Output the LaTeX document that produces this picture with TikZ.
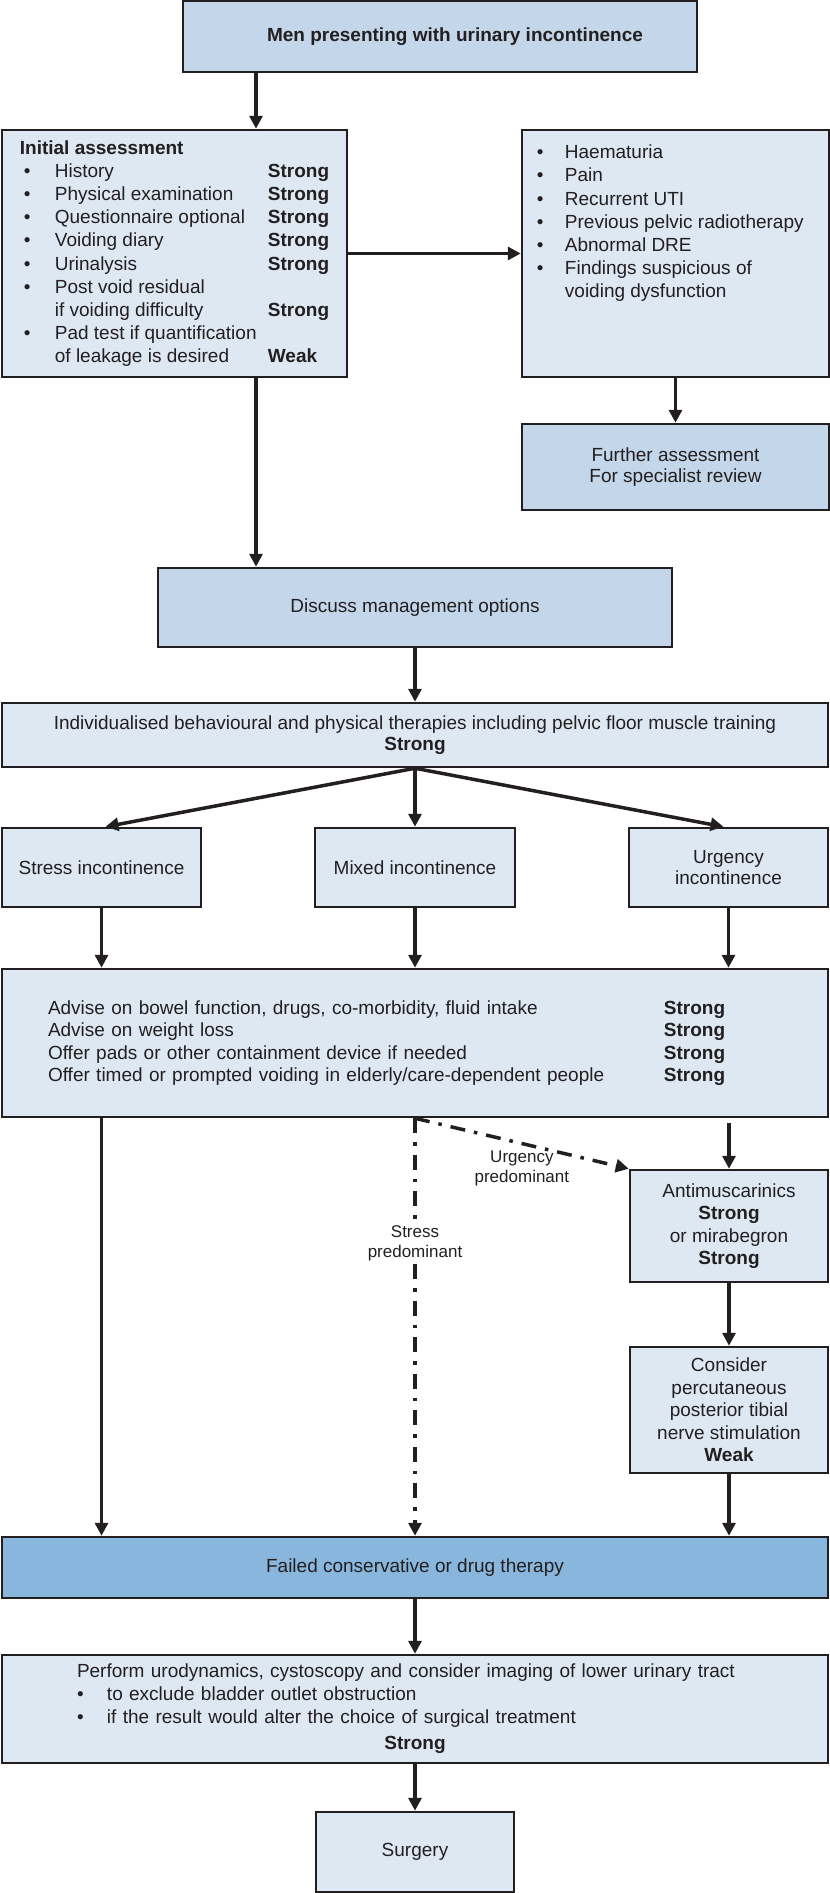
\documentclass[tikz,border=0pt]{standalone}
\usepackage{fontspec}
\setmainfont{Liberation Sans}
\usepackage{tikz}
\usetikzlibrary{arrows.meta, positioning}
\definecolor{boxline}{HTML}{231F20}
\definecolor{paleblue}{HTML}{DDE8F3}
\definecolor{midblue}{HTML}{C3D6EA}
\definecolor{deepblue}{HTML}{88B6DC}
\tikzstyle{arrow} = [line width=3.5pt, draw=boxline, -{Triangle[length=13pt,width=13pt]}]
\tikzstyle{dashdot} = [arrow, dash pattern=on 15pt off 9pt on 3.5pt off 9pt]
\newcommand{\gradeline}[3]{\makebox[35pt][l]{\hspace*{4pt}#1}\makebox[213pt][l]{#2}\textbf{#3}}
\newcommand{\flagline}[1]{\makebox[28pt][l]{\textbullet}#1}

\begin{document}
\begin{tikzpicture}[
        x=1pt, y=-1pt,
        every node/.style={text=boxline, font=\fontsize{19}{22.5}\selectfont},
        box/.style={draw=boxline, line width=2.5pt, fill=paleblue, align=center, inner sep=0pt},
        keybox/.style={box, fill=midblue},
        failbox/.style={box, fill=deepblue},
        branch/.style={inner sep=3pt, align=center, font=\fontsize{17}{19.5}\selectfont},
    ]
    \useasboundingbox (0,0) rectangle (830,1893);

    % assessment
    \node[keybox, minimum width=514pt, minimum height=71pt] (men) at (440,36.5) {\hspace*{30pt}\textbf{Men presenting with urinary incontinence}};
    \node[box, minimum width=345pt, minimum height=247pt, align=left, font=\fontsize{19}{23.2}\selectfont] (init) at (174.5,253.5) {%
        \textbf{Initial assessment}\\
        \gradeline{\textbullet}{History}{Strong}\\
        \gradeline{\textbullet}{Physical examination}{Strong}\\
        \gradeline{\textbullet}{Questionnaire optional}{Strong}\\
        \gradeline{\textbullet}{Voiding diary}{Strong}\\
        \gradeline{\textbullet}{Urinalysis}{Strong}\\
        \gradeline{\textbullet}{Post void residual}{}\\
        \gradeline{}{if voiding difficulty}{Strong}\\
        \gradeline{\textbullet}{Pad test if quantification}{}\\
        \gradeline{}{of leakage is desired}{Weak}};
    \node[box, minimum width=307pt, minimum height=247pt] (flags) at (675.5,253.5) {};
    \node[anchor=north west, align=left, inner sep=0pt, font=\fontsize{19}{23.2}\selectfont] (flagtext) at ([xshift=16pt, yshift=-16pt]flags.north west) {%
        \flagline{Haematuria}\\
        \flagline{Pain}\\
        \flagline{Recurrent UTI}\\
        \flagline{Previous pelvic radiotherapy}\\
        \flagline{Abnormal DRE}\\
        \flagline{Findings suspicious of}\\
        \hspace*{28pt}voiding dysfunction};
    \node[keybox, minimum width=307pt, minimum height=86pt, font=\fontsize{19}{21}\selectfont] (further) at (675.5,467) {Further assessment\\For specialist review};

    % management
    \node[keybox, minimum width=514pt, minimum height=79pt] (discuss) at (415,607.5) {Discuss management options};
    \node[box, minimum width=826pt, minimum height=64pt, font=\fontsize{19}{21}\selectfont] (therapy) at (415,735) {Individualised behavioural and physical therapies including pelvic floor muscle training\\\textbf{Strong}};
    \node[box, minimum width=199pt, minimum height=79pt] (stress) at (101.5,867.5) {Stress incontinence};
    \node[box, minimum width=200pt, minimum height=79pt] (mixed) at (415,867.5) {Mixed incontinence};
    \node[box, minimum width=199pt, minimum height=79pt, font=\fontsize{19}{20.5}\selectfont] (urgency) at (728.5,867.5) {Urgency\\incontinence};
    \node[box, minimum width=826pt, minimum height=148pt, align=left, text width=734pt] (advice) at (415,1043) {%
        \makebox[616pt][l]{Advise on bowel function, drugs, co-morbidity, fluid intake}\textbf{Strong}\\
        \makebox[616pt][l]{Advise on weight loss}\textbf{Strong}\\
        \makebox[616pt][l]{Offer pads or other containment device if needed}\textbf{Strong}\\
        \makebox[616pt][l]{Offer timed or prompted voiding in elderly/care-dependent people}\textbf{Strong}};
    \node[box, minimum width=198pt, minimum height=112pt] (antimusc) at (729,1226) {Antimuscarinics\\\textbf{Strong}\\or mirabegron\\\textbf{Strong}};
    \node[box, minimum width=198pt, minimum height=126pt] (consider) at (729,1410) {Consider\\percutaneous\\posterior tibial\\nerve stimulation\\\textbf{Weak}};

    % second line
    \node[failbox, minimum width=826pt, minimum height=61pt] (failed) at (415,1567.5) {Failed conservative or drug therapy};
    \node[box, minimum width=826pt, minimum height=108pt, align=left, text width=676pt, font=\fontsize{19}{23}\selectfont] (perform) at (415,1709) {%
        Perform urodynamics, cystoscopy and consider imaging of lower urinary tract\\
        \makebox[30pt][l]{\textbullet}to exclude bladder outlet obstruction\\
        \makebox[30pt][l]{\textbullet}if the result would alter the choice of surgical treatment\\[3pt]
        \makebox[\linewidth]{\textbf{Strong}}};
    \node[box, minimum width=198pt, minimum height=80pt] (surgery) at (415,1852) {Surgery};

    % connectors
    \coordinate (leftcol) at (256,0);
    \draw[arrow] (leftcol |- men.south) -- (leftcol |- init.north);
    \draw[arrow] (init.east) -- (flags.west);
    \draw[arrow] (flags.south) -- (further.north);
    \draw[arrow] (leftcol |- init.south) -- (leftcol |- discuss.north);
    \draw[arrow] (discuss.south) -- (therapy.north);
    \draw[arrow] (therapy.south) -- ([xshift=4pt]stress.north);
    \draw[arrow] (therapy.south) -- (mixed.north);
    \draw[arrow] (therapy.south) -- ([xshift=-5pt]urgency.north);
    \draw[arrow] (stress.south) -- (stress.south |- advice.north);
    \draw[arrow] (mixed.south) -- (mixed.south |- advice.north);
    \draw[arrow] (urgency.south) -- (urgency.south |- advice.north);
    \draw[arrow] (stress.south |- advice.south) -- (stress.south |- failed.north);
    \draw[dashdot] (advice.south) -- node[branch, fill=white, pos=0.3] (stresslbl) {Stress\\predominant} (failed.north);
    \draw[dashdot] (advice.south) -- node[branch, midway, below=3pt] (urgelbl) {Urgency\\predominant} (antimusc.north west);
    \coordinate (urgtop) at (antimusc.north |- advice.south);
    \draw[arrow, shorten <=5pt] (urgtop) -- (antimusc.north);
    \draw[arrow] (antimusc.south) -- (consider.north);
    \draw[arrow] (consider.south) -- (consider.south |- failed.north);
    \draw[arrow] (failed.south) -- (perform.north);
    \draw[arrow] (perform.south) -- (surgery.north);
\end{tikzpicture}
\end{document}
